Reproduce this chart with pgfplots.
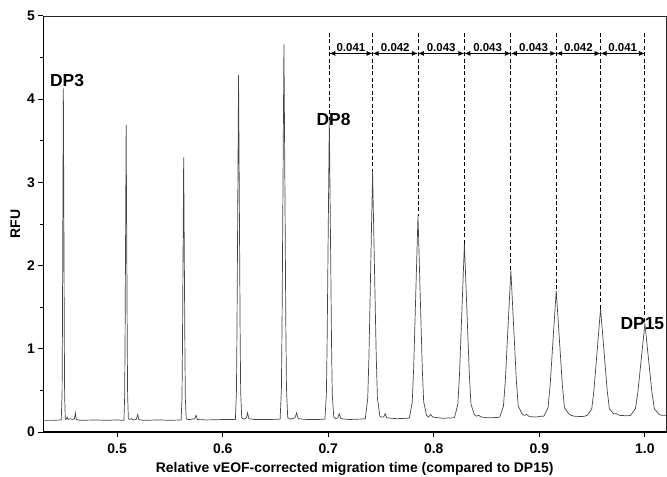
\documentclass[border=0pt]{standalone}
\usepackage{fontspec}
\setmainfont{Liberation Sans}
\usepackage{pgfplots}
\pgfplotsset{compat=1.18}
\usetikzlibrary{arrows.meta}
\definecolor{trace}{HTML}{454545}
\begin{document}
\begin{tikzpicture}
\useasboundingbox (0,0) rectangle (667bp,477bp);
\begin{axis}[
  at={(43.3bp,45bp)}, anchor=south west,
  width=622.7bp, height=416bp, scale only axis,
  xmin=0.43, xmax=1.02, ymin=0, ymax=5,
  xtick={0.5,0.6,0.7,0.8,0.9,1.0},
  ytick={0,1,2,3,4,5},
  minor ytick={0.5,1.5,2.5,3.5,4.5},
  xticklabel style={/pgf/number format/fixed,/pgf/number format/precision=1,/pgf/number format/fixed zerofill, yshift=-3bp},
  /pgf/number format/assume math mode=true,
  tick label style={font=\fontsize{14}{16}\selectfont\bfseries},
  label style={font=\fontsize{14}{16}\selectfont\bfseries},
  xlabel={Relative vEOF-corrected migration time (compared to DP15)},
  xlabel style={yshift=-2bp},
  ylabel={RFU},
  tick align=outside, xtick pos=bottom, ytick pos=left,
  major tick length=5bp, minor tick length=3.5bp,
  tick style={black, line width=1pt},
  axis line style={draw=black!85, line width=0.6pt},
  clip=false,
]
\addplot[trace, line width=0.7pt] coordinates {
(0.43,0.14) (0.44,0.14) (0.447,0.145)
(0.4478,0.468) (0.4481,1.145) (0.4484,2.14) (0.4487,3.135) (0.449,4.13) (0.4493,3.135) (0.4496,2.14) (0.4499,1.145) (0.4502,0.468) (0.4508,0.16)
(0.4515,0.15) (0.4525,0.18) (0.4535,0.15) (0.455,0.16) (0.4575,0.15) (0.4595,0.16) (0.4604,0.23) (0.4612,0.15) (0.465,0.14) (0.48,0.145) (0.49,0.14) (0.50,0.145) (0.5064,0.14)
(0.5071,0.433) (0.50745,1.035) (0.5078,1.92) (0.50815,2.805) (0.5085,3.69) (0.50885,2.805) (0.5092,1.92) (0.50955,1.035) (0.5099,0.433) (0.5106,0.16)
(0.512,0.15) (0.5135,0.16) (0.515,0.145) (0.518,0.15) (0.5195,0.21) (0.5205,0.15) (0.525,0.14) (0.54,0.145) (0.55,0.14) (0.5606,0.145)
(0.5614,0.402) (0.5618,0.9375) (0.5622,1.725) (0.5626,2.5125) (0.563,3.30) (0.5634,2.5125) (0.5638,1.725) (0.5642,0.9375) (0.5646,0.402) (0.5654,0.16)
(0.567,0.15) (0.569,0.15) (0.5735,0.16) (0.5747,0.2) (0.576,0.15) (0.585,0.145) (0.60,0.15) (0.612,0.15)
(0.613,0.490) (0.6135,1.193) (0.614,2.225) (0.6145,3.258) (0.615,4.29) (0.6155,3.258) (0.616,2.225) (0.6165,1.193) (0.617,0.49) (0.618,0.17)
(0.620,0.155) (0.6225,0.17) (0.6235,0.23) (0.6248,0.16) (0.63,0.15) (0.645,0.15) (0.6544,0.155)
(0.6556,0.52) (0.6562,1.285) (0.6568,2.41) (0.6574,3.535) (0.658,4.66) (0.6586,3.535) (0.6592,2.41) (0.6598,1.285) (0.6604,0.52) (0.6616,0.17)
(0.664,0.155) (0.6685,0.17) (0.670,0.23) (0.6715,0.16) (0.68,0.15) (0.69,0.15) (0.6968,0.155)
(0.6982,0.447) (0.6989,1.058) (0.6996,1.955) (0.7003,2.853) (0.701,3.75) (0.7017,2.853) (0.7024,1.955) (0.7031,1.058) (0.7038,0.447) (0.7052,0.18)
(0.707,0.16) (0.709,0.17) (0.7104,0.22) (0.712,0.16) (0.72,0.15) (0.73,0.155) (0.7351,0.16)
(0.7374,0.406) (0.73855,0.908) (0.7397,1.645) (0.74085,2.383) (0.742,3.12) (0.74315,2.383) (0.7443,1.645) (0.74545,0.908) (0.7466,0.406) (0.7489,0.19)
(0.750,0.18) (0.7525,0.18) (0.754,0.22) (0.7555,0.17) (0.765,0.16) (0.775,0.165) (0.7769,0.17)
(0.7796,0.364) (0.78095,0.778) (0.7823,1.385) (0.78365,1.993) (0.785,2.60) (0.78635,1.993) (0.7877,1.385) (0.78905,0.778) (0.7904,0.364) (0.7931,0.2)
(0.795,0.18) (0.797,0.21) (0.799,0.18) (0.808,0.165) (0.818,0.17) (0.8197,0.175)
(0.8228,0.337) (0.82435,0.693) (0.8259,1.215) (0.82745,1.738) (0.829,2.26) (0.83055,1.738) (0.8321,1.215) (0.83365,0.693) (0.8352,0.337) (0.8383,0.21)
(0.8405,0.19) (0.8425,0.2) (0.845,0.18) (0.852,0.17) (0.86,0.175) (0.8625,0.18)
(0.866,0.312) (0.86775,0.613) (0.8695,1.055) (0.87125,1.498) (0.873,1.94) (0.87475,1.498) (0.8765,1.055) (0.87825,0.613) (0.880,0.312) (0.8835,0.22)
(0.8855,0.2) (0.888,0.21) (0.8905,0.185) (0.897,0.18) (0.902,0.19) (0.9043,0.19)
(0.9082,0.292) (0.91015,0.553) (0.9121,0.935) (0.91405,1.318) (0.916,1.70) (0.91795,1.318) (0.9199,0.935) (0.92185,0.553) (0.9238,0.292) (0.9277,0.22)
(0.930,0.2) (0.933,0.19) (0.94,0.185) (0.943,0.19) (0.9454,0.2)
(0.9496,0.275) (0.9517,0.498) (0.9538,0.825) (0.9559,1.153) (0.958,1.48) (0.9601,1.153) (0.9622,0.825) (0.9643,0.498) (0.9664,0.275) (0.9706,0.22)
(0.973,0.22) (0.976,0.2) (0.983,0.195) (0.9865,0.2)
(0.991,0.279) (0.99325,0.468) (0.9955,0.745) (0.99775,1.023) (1.000,1.30) (1.00225,1.023) (1.0045,0.745) (1.00675,0.468) (1.009,0.279) (1.0135,0.21)
(1.016,0.2) (1.02,0.2)
};
% dashed guide lines
\addplot[black, line width=0.8pt, dash pattern=on 4pt off 2.5pt] coordinates {(0.701,4.8) (0.701,3.75)};
\addplot[black, line width=0.8pt, dash pattern=on 4pt off 2.5pt] coordinates {(0.742,4.8) (0.742,3.12)};
\addplot[black, line width=0.8pt, dash pattern=on 4pt off 2.5pt] coordinates {(0.785,4.8) (0.785,2.60)};
\addplot[black, line width=0.8pt, dash pattern=on 4pt off 2.5pt] coordinates {(0.829,4.8) (0.829,2.26)};
\addplot[black, line width=0.8pt, dash pattern=on 4pt off 2.5pt] coordinates {(0.873,4.8) (0.873,1.94)};
\addplot[black, line width=0.8pt, dash pattern=on 4pt off 2.5pt] coordinates {(0.916,4.8) (0.916,1.70)};
\addplot[black, line width=0.8pt, dash pattern=on 4pt off 2.5pt] coordinates {(0.958,4.8) (0.958,1.48)};
\addplot[black, line width=0.8pt, dash pattern=on 4pt off 2.5pt] coordinates {(1.000,4.8) (1.000,1.30)};
% spacing arrows
\foreach \a/\b/\t in {0.701/0.742/0.041, 0.742/0.785/0.042, 0.785/0.829/0.043, 0.829/0.873/0.043, 0.873/0.916/0.043, 0.916/0.958/0.042, 0.958/1.000/0.041}{
  \edef\temp{\noexpand\draw[{Latex[length=6pt,width=5pt]}-{Latex[length=6pt,width=5pt]}, line width=0.8pt, black] (axis cs:\a,4.55) -- (axis cs:\b,4.55) node[midway, above=0pt, inner sep=1.5pt, font=\noexpand\fontsize{11.5}{13}\noexpand\selectfont\noexpand\bfseries] {\t};}
  \temp
}
% peak labels
\node[font=\fontsize{17.5}{20}\selectfont\bfseries] at (axis cs:0.4525,4.23) {DP3};
\node[font=\fontsize{17.5}{20}\selectfont\bfseries] at (axis cs:0.705,3.76) {DP8};
\node[font=\fontsize{17.5}{20}\selectfont\bfseries] at (axis cs:0.9976,1.30) {DP15};
% bold left and bottom axis lines
\draw[black, line width=1.3pt] (rel axis cs:0,1) -- (rel axis cs:0,0) -- (rel axis cs:1,0);
\end{axis}
\end{tikzpicture}
\end{document}
